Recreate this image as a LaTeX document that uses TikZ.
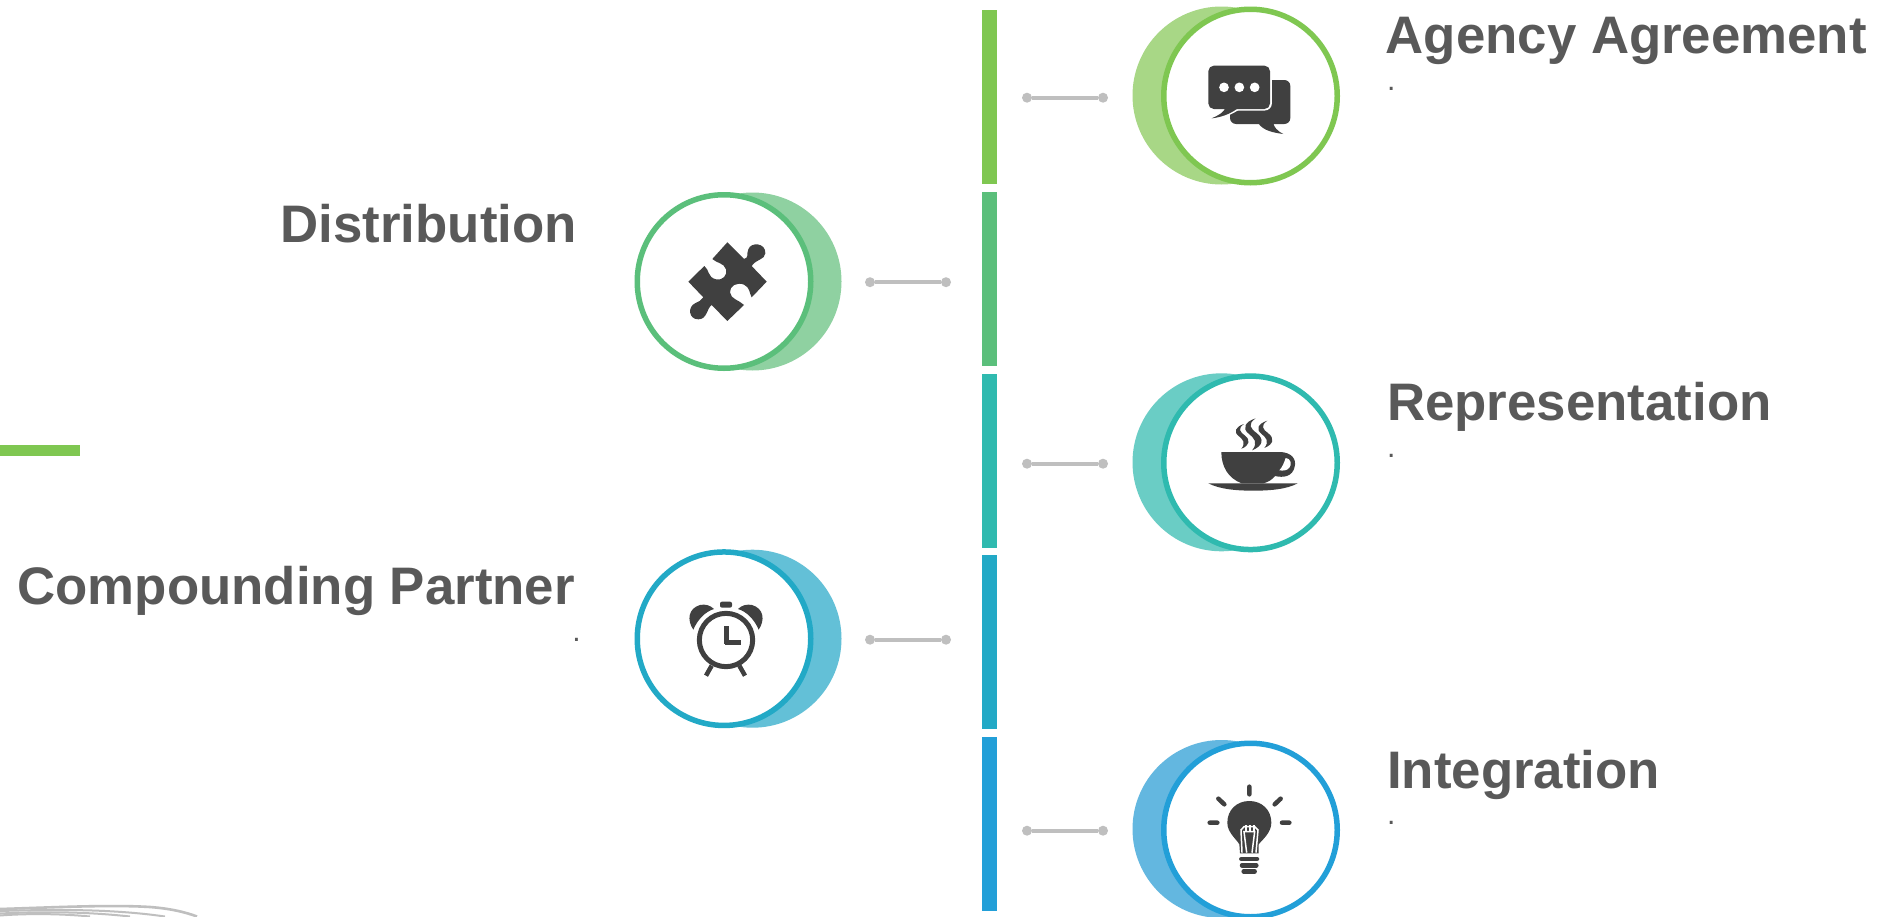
\documentclass[tikz,border=0pt]{standalone}
\usepackage{fontspec}
\setmainfont{Liberation Sans}
\definecolor{cA}{HTML}{7FC751}\definecolor{cAl}{HTML}{A8D786}
\definecolor{cB}{HTML}{5BBF7B}\definecolor{cBl}{HTML}{8FD1A1}
\definecolor{cC}{HTML}{2FBAAF}\definecolor{cCl}{HTML}{6ACDC5}
\definecolor{cD}{HTML}{22A9C6}\definecolor{cDl}{HTML}{63C0D7}
\definecolor{cE}{HTML}{229FD8}\definecolor{cEl}{HTML}{63B7E0}
\definecolor{ink}{HTML}{404040}\definecolor{txt}{HTML}{595959}\definecolor{conn}{HTML}{BFBFBF}
\tikzset{
 back/.style={circle,inner sep=0pt,minimum size=178pt,fill=#1},
 ring/.style={circle,inner sep=0pt,minimum size=173.5pt,fill=white,draw=#1,line width=5.5pt},
 barseg/.style={rectangle,inner sep=0pt,minimum width=15pt,minimum height=174pt,fill=#1},
 dotend/.style={circle,inner sep=0pt,minimum size=10pt,fill=conn},
 link/.style={draw=conn,line width=4pt},
 title/.style={inner sep=0pt,text=txt,font=\fontsize{52.8}{60}\selectfont\bfseries},
 tiny/.style={inner sep=0pt,text=txt,font=\fontsize{30}{32}\selectfont},
 wave/.style={draw=#1,line width=2pt}
}
\begin{document}
\begin{tikzpicture}[x=1pt,y=-1pt]
\useasboundingbox (0,0) rectangle (1880,916);
\fill[white] (0,0) rectangle (1880,916);
% accent
\node[rectangle,inner sep=0pt,minimum width=80pt,minimum height=11pt,fill=cA,anchor=north west] (accent) at (0,445) {};
% bars
\node[barseg=cA] (b1) at (989.5,97) {};
\node[barseg=cB] (b2) at (989.5,279) {};
\node[barseg=cC] (b3) at (989.5,460.5) {};
\node[barseg=cD] (b4) at (989.5,641.5) {};
\node[barseg=cE] (b5) at (989.5,823.5) {};
% connectors
\node[dotend] (a1) at (1027,97.7) {}; \node[dotend] (a2) at (1103,97.7) {}; \draw[link] (a1)--(a2);
\node[dotend] (d1) at (870,282.2) {}; \node[dotend] (d2) at (946,282.2) {}; \draw[link] (d1)--(d2);
\node[dotend] (r1) at (1027,463.7) {}; \node[dotend] (r2) at (1103,463.7) {}; \draw[link] (r1)--(r2);
\node[dotend] (c1) at (870,639.7) {}; \node[dotend] (c2) at (946,639.7) {}; \draw[link] (c1)--(c2);
\node[dotend] (i1) at (1027,830.7) {}; \node[dotend] (i2) at (1103,830.7) {}; \draw[link] (i1)--(i2);
% circles
\node[back=cAl] (ab) at (1221.5,95.5) {}; \node[ring=cA] (ar) at (1250.5,96) {};
\node[back=cBl] (db) at (752.5,281.5) {}; \node[ring=cB] (dr) at (724,281.5) {};
\node[back=cCl] (rb) at (1221.5,462.3) {}; \node[ring=cC] (rr) at (1250.5,462.8) {};
\node[back=cDl] (cb) at (752.5,638.7) {}; \node[ring=cD] (cr) at (724,638.7) {};
\node[back=cEl] (ib) at (1221.5,829) {}; \node[ring=cE] (ir) at (1250.5,830) {};
% chat icon
\begin{scope}[shift={(1120,0)},scale=1/3]
\fill[ink,rounded corners=6pt] (330,240) -- (511,240) -- (511,372) -- (330,372) -- cycle;
\fill[ink] (415,370) .. controls (430,392) and (460,398) .. (490,402) .. controls (470,392) and (462,380) .. (460,370) -- cycle;
\draw[white,line width=2.4pt,rounded corners=6pt] (265,197) -- (452,197) -- (452,328) -- (265,328) -- cycle;
\draw[white,line width=2.4pt,fill=white] (310,320) -- (352,328) .. controls (325,345) and (300,352) .. (275,355) .. controls (295,346) and (312,338) .. (318,320) -- cycle;
\fill[ink,rounded corners=5.5pt] (265,197) -- (450,197) -- (450,327) -- (265,327) -- cycle;
\fill[ink] (310,320) -- (352,326) .. controls (325,345) and (300,352) .. (275,355) .. controls (295,346) and (312,338) .. (318,320) -- cycle;
\fill[white] (312,262) circle (14.5) (358,262) circle (14.5) (404,262) circle (14.5);
\end{scope}
% puzzle icon
\begin{scope}[shift={(620,180)},scale=1/3]
\fill[ink] (322,187) -- (372,237) .. controls (388,232) and (378,225) .. (385,208) .. controls (392,185) and (438,188) .. (436,220) .. controls (434,240) and (410,236) .. (395,258) -- (440,305) -- (395,352) .. controls (388,340) and (390,322) .. (372,314) .. controls (352,305) and (328,318) .. (330,337) .. controls (332,358) and (358,360) .. (372,375) -- (322,423) -- (275,375) .. controls (260,385) and (262,418) .. (235,418) .. controls (205,418) and (203,380) .. (225,370) .. controls (235,365) and (245,362) .. (250,352) -- (205,305) -- (253,258) .. controls (268,268) and (262,292) .. (288,298) .. controls (310,302) and (322,285) .. (318,268) .. controls (312,248) and (290,250) .. (277,237) -- cycle;
\end{scope}
% cup icon
\begin{scope}[shift={(1120,370)},scale=1/3]
\fill[ink] (304,246) -- (478,246) .. controls (515,246) and (530,268) .. (524,290) .. controls (518,320) and (490,324) .. (465,318) .. controls (455,330) and (445,336) .. (430,340) -- (365,340) .. controls (325,325) and (304,290) .. (304,246) -- cycle;
\fill[white] (497,264) .. controls (513,264) and (516,285) .. (508,293) .. controls (503,301) and (490,303) .. (478,301) .. controls (488,290) and (492,278) .. (497,264) -- cycle;
\fill[ink] (265,340) -- (533,340) .. controls (500,358) and (450,362) .. (400,362) .. controls (350,362) and (300,358) .. (265,340) -- cycle;
\foreach \px/\py/\s in {372/162/0.8,407/145/1.03,442/152/0.88}{
\fill[ink,shift={(\px,\py)},scale=\s] (0,0) .. controls (-32,10) and (-40,30) .. (-20,45) .. controls (-5,57) and (8,70) .. (-10,93) .. controls (22,80) and (25,60) .. (3,43) .. controls (-15,30) and (-25,17) .. (0,0) -- cycle;
}
\end{scope}
% clock icon
\begin{scope}[shift={(620,545)},scale=1/3]
\draw[ink,line width=5pt] (318,285) circle (80);
\draw[ink,line width=5pt] (318,243) -- (318,295.5) (315.5,293) -- (364,293);
\draw[ink,line width=4.5pt] (275,362) -- (258,392) (358,362) -- (375,392);
\fill[ink,rounded corners=2pt] (300,170) rectangle (336,188);
\fill[ink] (220,254) .. controls (200,225) and (205,190) .. (240,180) .. controls (255,177) and (270,180) .. (282,192) .. controls (255,200) and (232,225) .. (220,254) -- cycle;
\fill[ink] (416,254) .. controls (436,225) and (431,190) .. (396,180) .. controls (381,177) and (366,180) .. (354,192) .. controls (381,200) and (404,225) .. (416,254) -- cycle;
\end{scope}
% bulb icon
\begin{scope}[shift={(1120,736)},scale=1/3]
\draw[ink,line width=4.5pt,line cap=round] (388,152) -- (388,175) (295,188) -- (313,205) (482,188) -- (464,205) (269,260) -- (292,260) (486,260) -- (508,260);
\fill[ink] (388,195) .. controls (350,195) and (322,222) .. (322,260) .. controls (322,290) and (350,310) .. (358,325) -- (360,352) -- (416,352) -- (416,325) .. controls (428,310) and (454,290) .. (454,260) .. controls (454,222) and (426,195) .. (388,195) -- cycle;
\draw[white,line width=1.5pt] (366,350) -- (363,282) -- (372,272) -- (404,272) -- (414,282) -- (408,350) (380,350) -- (372,287) -- (404,287) -- (396,350);
\draw[white,line width=1.1pt] (378,268) -- (378,287) (390,268) -- (390,287) (402,268) -- (402,287);
\draw[ink,line width=4.5pt,line cap=round] (364,369) -- (411,369) (366,388) -- (409,388) (371,406) -- (404,406);
\end{scope}
% wave lines
\draw[wave=conn,line width=2.6pt] (0,909) .. controls (50,907.5) and (110,904.5) .. (150,907) .. controls (170,908.5) and (185,912) .. (197,916.5);
\draw[wave=conn] (0,911) .. controls (50,909.5) and (110,908.5) .. (165,916.5);
\draw[wave=conn] (0,913.5) .. controls (40,911.5) and (85,911.5) .. (130,916.5);
\draw[wave=conn] (0,915.5) .. controls (25,913.5) and (60,913.5) .. (90,916.5);
% titles
\node[title,anchor=base west] (t1) at (1385.5,53) {Agency Agreement};
\node[title,anchor=base west] (t2) at (1387,420) {Representation};
\node[title,anchor=base west] (t3) at (1387,788) {Integration};
\node[title,anchor=base east] (t4) at (577,242) {Distribution};
\node[title,anchor=base east] (t5) at (575,604) {Compounding Partner};
\node[tiny,anchor=base west] (n1) at (1387,90) {.};
\node[tiny,anchor=base west] (n2) at (1387,457) {.};
\node[tiny,anchor=base west] (n3) at (1387,824) {.};
\node[tiny,anchor=base east] (n4) at (581,641) {.};
\end{tikzpicture}
\end{document}
